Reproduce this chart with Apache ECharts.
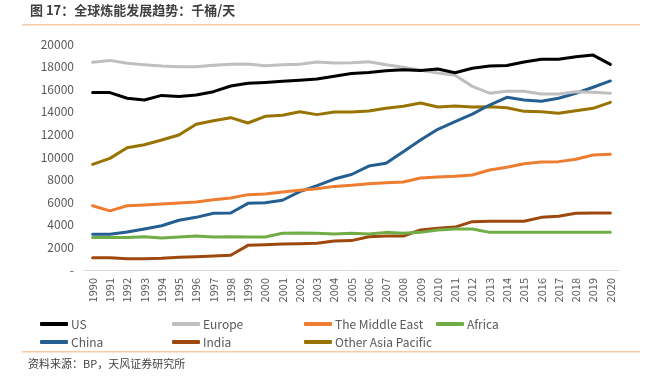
<!DOCTYPE html>
<html><head><meta charset="utf-8">
<script src="https://cdn.jsdelivr.net/npm/echarts@6/dist/echarts.min.js"></script>
<style>html,body{margin:0;padding:0;background:#fff}#c{width:645px;height:380px}</style>
</head><body><div id="c"></div>
<script>
const years = ['1990','1991','1992','1993','1994','1995','1996','1997','1998','1999','2000','2001','2002','2003','2004','2005','2006','2007','2008','2009','2010','2011','2012','2013','2014','2015','2016','2017','2018','2019','2020'];
const us = [15700,15700,15200,15050,15450,15350,15480,15780,16280,16520,16600,16700,16800,16900,17150,17380,17480,17640,17730,17650,17780,17460,17850,18050,18100,18400,18650,18650,18870,19020,18200];
const europe = [18380,18550,18290,18170,18050,17990,17990,18110,18200,18230,18080,18170,18200,18410,18320,18340,18430,18170,17940,17670,17430,17240,16250,15650,15820,15820,15580,15580,15770,15730,15650];
const middleEast = [5690,5230,5690,5750,5840,5930,6020,6220,6370,6670,6730,6900,7050,7200,7400,7490,7640,7730,7790,8140,8230,8290,8410,8850,9090,9410,9560,9590,9800,10180,10240];
const africa = [2880,2880,2880,2950,2830,2920,3010,2920,2950,2920,2920,3250,3270,3250,3190,3250,3190,3330,3250,3330,3540,3630,3630,3330,3330,3330,3330,3330,3330,3330,3330];
const china = [3160,3160,3360,3630,3920,4400,4660,5020,5040,5900,5960,6170,6930,7460,8050,8450,9200,9440,10470,11500,12450,13120,13800,14600,15280,15050,14930,15200,15640,16170,16730];
const india = [1090,1090,1000,1000,1030,1120,1180,1240,1300,2180,2240,2300,2330,2360,2570,2600,2950,3010,3010,3540,3690,3800,4280,4310,4310,4310,4660,4750,5020,5050,5050];
const otherAsia = [9350,9880,10820,11090,11500,11950,12890,13210,13480,13010,13600,13690,14010,13750,13980,13990,14070,14310,14490,14780,14420,14510,14420,14450,14360,14040,14010,13870,14100,14310,14840];
const yTicks = {min:0, max:20000, interval:2000};

const names = ['US','Europe','The Middle East','Africa','China','India','Other Asia Pacific'];
const dataArr = [us, europe, middleEast, africa, china, india, otherAsia];
const colors = ['#000000','#BFBFBF','#ED7D31','#70AD47','#255E91','#9E480E','#997300'];
const FONT = '"Noto Sans CJK SC", "Liberation Sans", sans-serif';

const series = names.map((n,i)=>({
  name:n, type:'line', data:dataArr[i], symbol:'none', smooth:false,
  lineStyle:{width:3, color:colors[i], cap:'round', join:'round'},
  itemStyle:{color:colors[i]}, z: 10 - i
}));

const legendPos = [[40,318],[172,318],[304,318],[436,318],[40,336],[172,336],[304,336]];
const legends = names.map((n,i)=>({
  data:[n], left:legendPos[i][0], top:legendPos[i][1], icon:'roundRect',
  itemWidth:28, itemHeight:4, itemGap:0,
  textStyle:{fontFamily:FONT, fontSize:12, color:'#595959', padding:[0,0,0,-2]},
  padding:0
}));

const chart = echarts.init(document.getElementById('c'));
chart.setOption({
  animation:false,
  backgroundColor:'#fff',
  grid:{left:84, right:26, top:44, bottom:110, containLabel:false},
  legend: legends,
  xAxis:{type:'category', data:years, boundaryGap:true,
    axisLine:{lineStyle:{color:'#D9D9D9', width:1}}, axisTick:{show:false},
    axisLabel:{rotate:90, interval:0, fontFamily:FONT, fontSize:11, color:'#595959', margin:8}},
  yAxis:{type:'value', min:yTicks.min, max:yTicks.max, interval:yTicks.interval,
    splitLine:{show:false}, axisLine:{show:false}, axisTick:{show:false},
    axisLabel:{fontFamily:FONT, fontSize:12, color:'#595959', margin:10,
      formatter:v=> v===0 ? '-' : String(v)}},
  series: series,
  graphic:[
    {type:'text', left:30, top:4, style:{text:'图 17：全球炼能发展趋势：千桶/天', font:'bold 13px '+FONT, fill:'#3F3F3F'}},
    {type:'rect', shape:{x:22, y:24, width:618, height:1.5}, style:{fill:'#F8CBA4'}},
    {type:'rect', shape:{x:22, y:351, width:618, height:1.5}, style:{fill:'#F8CBA4'}},
    {type:'text', left:28, top:358, style:{text:'资料来源：BP，天风证券研究所', font:'11px '+FONT, fill:'#3F3F3F'}}
  ]
});
</script></body></html>
